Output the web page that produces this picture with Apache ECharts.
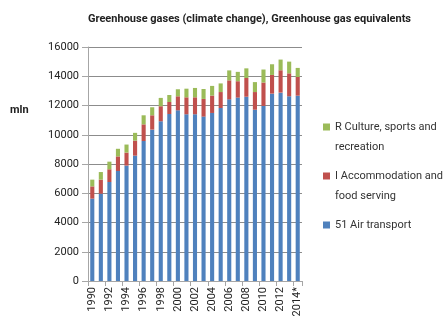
<!DOCTYPE html>
<html>
<head>
<meta charset="utf-8">
<script src="https://cdn.jsdelivr.net/npm/echarts@6/dist/echarts.min.js"></script>
<style>
  html, body { margin: 0; padding: 0; background: #fff; }
  #chart { width: 447px; height: 329px; }
</style>
</head>
<body>
<div id="chart"></div>
<script>
const years = ["1990", "1991", "1992", "1993", "1994", "1995", "1996", "1997", "1998", "1999",
  "2000", "2001", "2002", "2003", "2004", "2005", "2006", "2007", "2008", "2009",
  "2010", "2011", "2012", "2013", "2014*"];

const airTransport = [5630, 5970, 6770, 7520, 7890, 8570, 9570, 10350, 10920, 11420,
  11670, 11400, 11400, 11240, 11490, 11830, 12420, 12540, 12600, 11710,
  11970, 12810, 12880, 12630, 12670];

const accommodation = [840, 960, 870, 1000, 890, 1030, 1140, 980, 1030, 820,
  960, 1160, 1160, 1210, 1190, 1090, 1300, 1120, 1280, 1210,
  1600, 1280, 1530, 1570, 1280];

const culture = [460, 520, 520, 520, 550, 530, 620, 550, 570, 480,
  480, 590, 640, 680, 660, 590, 680, 640, 660, 680,
  890, 730, 730, 800, 620];

const nameAir = "51 Air transport";
const nameAcc = "I Accommodation and\nfood serving";
const nameCult = "R Culture, sports and\nrecreation";

const chart = echarts.init(document.getElementById("chart"));

const font = "Roboto, 'Liberation Sans', sans-serif";

chart.setOption({
  animation: false,
  backgroundColor: "#fff",
  textStyle: { fontFamily: font },

  title: {
    text: "Greenhouse gases (climate change), Greenhouse gas equivalents",
    left: 83,
    top: 9,
    textStyle: { fontSize: 11, fontWeight: "bold", color: "#222", fontFamily: font },
  },

  graphic: [
    {
      type: "text",
      left: 10,
      top: 105,
      style: { text: "mln", font: "bold 11px " + font, fill: "#222" },
    },
  ],

  // every entry is padded to three lines so the marker sits beside the first text line
  legend: {
    orient: "vertical",
    left: 323,
    top: 97,
    padding: 0,
    itemWidth: 7,
    itemHeight: 7,
    itemGap: -11,
    icon: "rect",
    data: [nameCult, nameAcc, nameAir],
    formatter: (name) => (name.includes("\n") ? "\n" + name : "\n" + name + "\n"),
    textStyle: { fontSize: 11, color: "#333", lineHeight: 20, fontFamily: font },
  },

  grid: { left: 88, right: 145, top: 47, bottom: 48 },

  xAxis: {
    type: "category",
    data: years,
    axisLine: { lineStyle: { color: "#a6a6a6" } },
    axisTick: { show: true, length: 5, lineStyle: { color: "#a6a6a6" } },
    axisLabel: { rotate: 90, interval: 1, fontSize: 11, color: "#222", margin: 6 },
  },

  yAxis: {
    type: "value",
    min: 0,
    max: 16000,
    interval: 2000,
    axisLine: { show: true, lineStyle: { color: "#a6a6a6" } },
    axisTick: { show: true, length: 6, lineStyle: { color: "#a6a6a6" } },
    axisLabel: { fontSize: 11, color: "#222", margin: 9, formatter: (v) => String(v) },
    splitLine: { lineStyle: { color: "#8c8c8c" } },
  },

  series: [
    {
      name: nameAir,
      type: "bar",
      stack: "total",
      barWidth: "48%",
      data: airTransport,
      itemStyle: { color: "#4f81bd" },
    },
    {
      name: nameAcc,
      type: "bar",
      stack: "total",
      data: accommodation,
      itemStyle: { color: "#c0504d" },
    },
    {
      name: nameCult,
      type: "bar",
      stack: "total",
      data: culture,
      itemStyle: { color: "#9bbb59" },
    },
  ],
});
</script>
</body>
</html>
